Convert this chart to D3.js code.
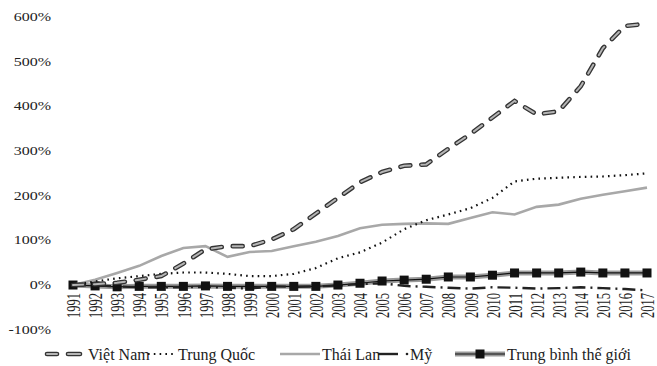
<!DOCTYPE html>
<html><head><meta charset="utf-8">
<script src="https://cdn.jsdelivr.net/npm/d3@7"></script>
<style>body{margin:0;background:#fff}svg{display:block}text{font-family:"Liberation Serif","Times New Roman",serif;fill:#222}</style>
</head><body><svg id="c" width="657" height="366"></svg>
<script>
const years = ["1991","1992","1993","1994","1995","1996","1997","1998","1999","2000","2001","2002","2003","2004","2005","2006","2007","2008","2009","2010","2011","2012","2013","2014","2015","2016","2017"];
const vietNam   = [0, 2, 5, 12, 20, 48, 80, 87, 87, 102, 125, 160, 195, 230, 253, 267, 270, 305, 338, 375, 412, 382, 389, 445, 530, 580, 585];
const trungQuoc = [0, 8, 15, 20, 25, 28, 28, 25, 20, 20, 25, 38, 60, 73, 95, 125, 145, 158, 172, 195, 232, 238, 240, 242, 243, 246, 250];
const thaiLan   = [0, 12, 27, 43, 65, 83, 87, 63, 74, 76, 87, 97, 110, 127, 135, 137, 138, 137, 150, 163, 158, 175, 180, 193, 202, 210, 218];
const my        = [0, -1, -3, -5, -5, -5, -4, -6, -8, -3, -4, -3, -1, 2, 4, -2, -4, -6, -8, -5, -6, -8, -7, -5, -7, -9, -12];
const trungBinh = [0, -2, -4, -3, -3, -3, -2, -3, -3, -3, -3, -3, 0, 4, 9, 11, 13, 18, 18, 22, 27, 27, 27, 29, 27, 27, 27];
const yTicks = [-100, 0, 100, 200, 300, 400, 500, 600];
const seriesNames = ["Việt Nam", "Trung Quốc", "Thái Lan", "Mỹ", "Trung bình thế giới"];

const svg = d3.select("#c");
const x = d3.scalePoint().domain(years).range([73, 647]);
const y = d3.scaleLinear().domain([-100, 600]).range([329.7, 17]);
const line = vals => d3.line().x((d, i) => x(years[i])).y(d => y(d))(vals);

// y axis labels
const ya = svg.append("g").attr("transform", "translate(51,0)")
  .call(d3.axisLeft(y).tickValues(yTicks).tickSize(0).tickPadding(0).tickFormat(d => d + "%"));
ya.select(".domain").remove();
ya.selectAll("text").attr("font-size", 16).attr("fill", "#222")
  .attr("font-family", "Liberation Serif, serif")
  .each(function () {
    const t = d3.select(this);
    const yy = +t.attr("y") || 0;
    t.attr("transform", null);
  });
ya.selectAll(".tick").each(function (d) {
  const g = d3.select(this);
  g.attr("transform", `translate(0,${y(d)}) scale(1,0.8)`);
});

// x axis labels
const xa = svg.append("g").attr("transform", "translate(0,293)")
  .call(d3.axisBottom(x).tickSize(0).tickPadding(0));
xa.select(".domain").remove();
xa.selectAll("text").attr("font-size", 19).attr("fill", "#222")
  .attr("font-family", "Liberation Serif, serif")
  .attr("text-anchor", "end").attr("dy", "0.35em").attr("y", 0).attr("x", 0)
  .attr("textLength", 25).attr("lengthAdjust", "spacingAndGlyphs")
  .attr("transform", "rotate(-90)");

const plot = svg.append("g");
// Trung bình thế giới
plot.append("path").attr("d", line(trungBinh)).attr("fill", "none").attr("stroke", "#9a9a9a").attr("stroke-width", 5);
plot.append("path").attr("d", line(trungBinh)).attr("fill", "none").attr("stroke", "#111").attr("stroke-width", 1.2);
// Mỹ
plot.append("path").attr("d", line(my)).attr("fill", "none").attr("stroke", "#222").attr("stroke-width", 2.4)
  .attr("stroke-dasharray", "13,5,2,5");
plot.selectAll("rect.tb").data(trungBinh).join("rect").attr("class", "tb")
  .attr("x", (d, i) => x(years[i]) - 4.5).attr("y", d => y(d) - 4.5)
  .attr("width", 9).attr("height", 9).attr("fill", "#111");
// Thái Lan
plot.append("path").attr("d", line(thaiLan)).attr("fill", "none").attr("stroke", "#a8a8a8").attr("stroke-width", 2.6);
// Trung Quốc
plot.append("path").attr("d", line(trungQuoc)).attr("fill", "none").attr("stroke", "#111").attr("stroke-width", 2.2)
  .attr("stroke-dasharray", "1.6,4.2");
// Việt Nam
plot.append("path").attr("d", line(vietNam)).attr("fill", "none").attr("stroke", "#333").attr("stroke-width", 4.6)
  .attr("stroke-dasharray", "10,11").attr("stroke-linecap", "round");
plot.append("path").attr("d", line(vietNam)).attr("fill", "none").attr("stroke", "#b5b5b5").attr("stroke-width", 2)
  .attr("stroke-dasharray", "10,11").attr("stroke-linecap", "round");

// legend
const lg = svg.append("g");
const ly = 354;
// VN symbol
[[47,57],[68,80]].forEach(([a,b]) => {
  lg.append("line").attr("x1", a).attr("x2", b).attr("y1", ly).attr("y2", ly).attr("stroke", "#333").attr("stroke-width", 4.6).attr("stroke-linecap", "round");
  lg.append("line").attr("x1", a).attr("x2", b).attr("y1", ly).attr("y2", ly).attr("stroke", "#b5b5b5").attr("stroke-width", 2).attr("stroke-linecap", "round");
});
lg.append("line").attr("x1", 148).attr("x2", 173).attr("y1", ly).attr("y2", ly).attr("stroke", "#111").attr("stroke-width", 2.2).attr("stroke-dasharray", "1.6,4.2");
lg.append("line").attr("x1", 280).attr("x2", 320).attr("y1", ly).attr("y2", ly).attr("stroke", "#a8a8a8").attr("stroke-width", 2.6);
lg.append("line").attr("x1", 378).attr("x2", 398).attr("y1", ly).attr("y2", ly).attr("stroke", "#222").attr("stroke-width", 2.4);
lg.append("circle").attr("cx", 407).attr("cy", ly).attr("r", 1.3).attr("fill", "#222");
lg.append("line").attr("x1", 455).attr("x2", 505).attr("y1", ly).attr("y2", ly).attr("stroke", "#9a9a9a").attr("stroke-width", 5);
lg.append("line").attr("x1", 455).attr("x2", 505).attr("y1", ly).attr("y2", ly).attr("stroke", "#111").attr("stroke-width", 1.2);
lg.append("rect").attr("x", 475.5).attr("y", ly - 4.5).attr("width", 9).attr("height", 9).attr("fill", "#111");
const lx = [88, 178, 322, 410, 507];
lg.selectAll("text").data(seriesNames).join("text")
  .attr("x", (d, i) => lx[i]).attr("y", ly).attr("dy", "0.35em")
  .attr("font-size", 16).text(d => d);
</script></body></html>
